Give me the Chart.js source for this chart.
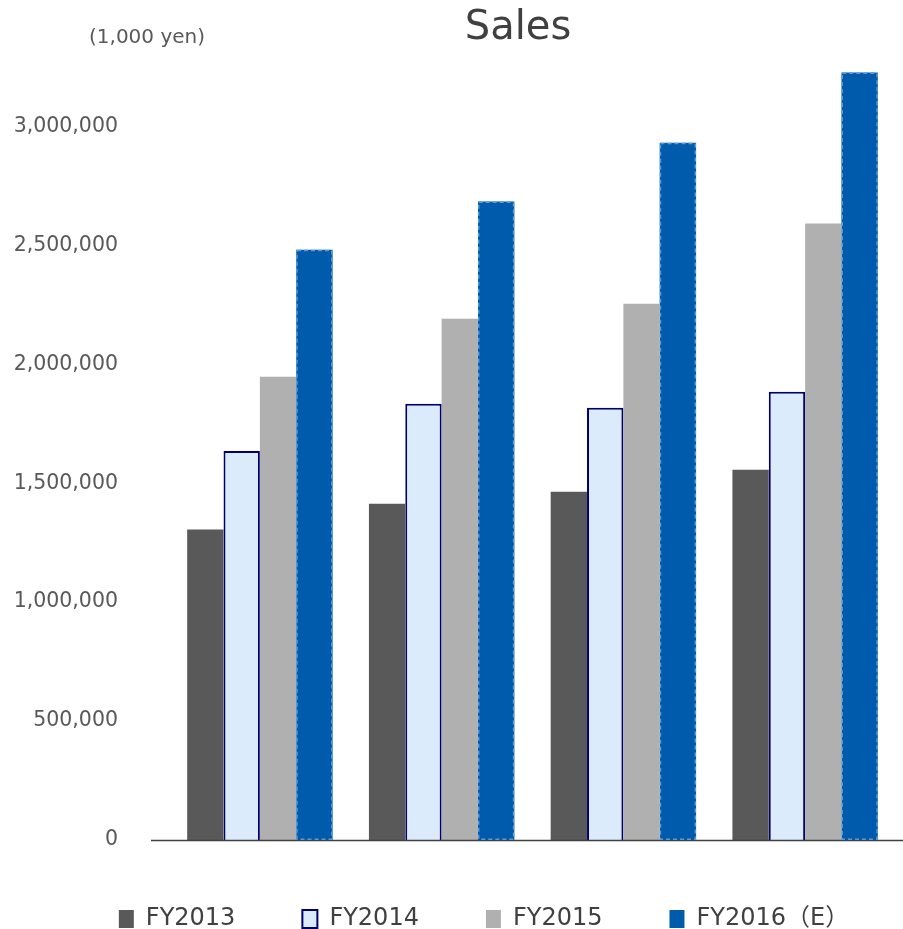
<!DOCTYPE html>
<html lang="en">
<head>
    <meta charset="UTF-8">
    <title>Sales</title>
    <script src="https://cdn.jsdelivr.net/npm/chart.js"></script>
    <style>
        body { margin: 0; background: #fff; }
        #wrap { position: relative; width: 903px; height: 929px; }
        #salesChart { position: absolute; left: 0; top: 0; }
        .lbl { position: absolute; font-family: "DejaVu Sans", Verdana, sans-serif; color: #404040; line-height: 1; white-space: nowrap; }
        #title { left: 518px; top: 5px; font-size: 40px; transform: translateX(-50%); }
        #unit { left: 89px; top: 26px; font-size: 20px; color: #595959; }
    </style>
</head>
<body>
<div id="wrap">
    <canvas id="salesChart" width="903" height="929"></canvas>
    <div class="lbl" id="title">Sales</div>
    <div class="lbl" id="unit">(1,000 yen)</div>
</div>

<script>
    // 4 groups, no labels shown on the x axis
    const categories = ['1Q', '2Q', '3Q', '4Q'];

    const fy2013 = [1305000, 1414000, 1464000, 1557000];
    const fy2014 = [1636000, 1834000, 1817000, 1885000];
    const fy2015 = [1948000, 2192000, 2255000, 2592000];
    const fy2016e = [2482000, 2684000, 2932000, 3227000];

    const seriesNames = ['FY2013', 'FY2014', 'FY2015', 'FY2016（E）'];

    const yMax = 3250000;
    const yTicks = [0, 500000, 1000000, 1500000, 2000000, 2500000, 3000000];

    const FONT = '"DejaVu Sans", Verdana, "Noto Sans CJK JP", sans-serif';

    // baseline of the plot, drawn a bit wider than the plot area
    const baseLine = {
        id: 'baseLine',
        afterDatasetsDraw(chart) {
            const ctx = chart.ctx;
            const y = Math.round(chart.scales.y.getPixelForValue(0)) + 0.5;
            ctx.save();
            ctx.strokeStyle = '#404040';
            ctx.lineWidth = 1.5;
            ctx.beginPath();
            ctx.moveTo(151, y);
            ctx.lineTo(chart.width, y);
            ctx.stroke();
            ctx.restore();
        }
    };

    // dashed outline on the forecast bars
    const dashedBars = {
        id: 'dashedBars',
        afterDatasetsDraw(chart) {
            const ctx = chart.ctx;
            const meta = chart.getDatasetMeta(3);
            ctx.save();
            ctx.strokeStyle = '#5b9bd5';
            ctx.lineWidth = 1.5;
            ctx.setLineDash([4, 3]);
            meta.data.forEach(bar => {
                const left = bar.x - bar.width / 2;
                ctx.strokeRect(left + 0.75, bar.y + 0.75, bar.width - 1.5, bar.base - bar.y - 1.5);
            });
            ctx.restore();
        }
    };

    // legend row sits a little right of centre in the original
    const legendShift = {
        id: 'legendShift',
        afterLayout(chart) {
            chart.legend.left += 36;
            chart.legend.right += 36;
        }
    };

    const ctx = document.getElementById('salesChart').getContext('2d');
    new Chart(ctx, {
        type: 'bar',
        data: {
            labels: categories,
            datasets: [
                { label: seriesNames[0], data: fy2013, backgroundColor: '#595959', borderWidth: 0 },
                { label: seriesNames[1], data: fy2014, backgroundColor: '#dcebfb', borderColor: '#00006e', borderWidth: 2 },
                { label: seriesNames[2], data: fy2015, backgroundColor: '#b0b0b0', borderWidth: 0 },
                { label: seriesNames[3], data: fy2016e, backgroundColor: '#005bac', borderWidth: 0 }
            ]
        },
        options: {
            responsive: false,
            animation: false,
            categoryPercentage: 0.8,
            barPercentage: 1.0,
            layout: { padding: { top: 67, left: 0, right: 7, bottom: 0 } },
            plugins: {
                title: { display: false },
                tooltip: { enabled: false },
                legend: {
                    position: 'bottom',
                    maxHeight: 89,
                    labels: {
                        font: { family: FONT, size: 24 },
                        color: '#404040',
                        boxWidth: 15,
                        boxHeight: 18,
                        padding: 67
                    }
                }
            },
            scales: {
                x: { display: false },
                y: {
                    min: 0,
                    max: yMax,
                    grid: { display: false, drawTicks: false },
                    border: { display: false },
                    afterFit(scale) { scale.width = 169; },
                    afterBuildTicks(scale) { scale.ticks = yTicks.map(v => ({ value: v })); },
                    ticks: {
                        autoSkip: false,
                        padding: 51,
                        color: '#595959',
                        font: { family: FONT, size: 20.5 },
                        callback: v => v.toLocaleString('en-US')
                    }
                }
            }
        },
        plugins: [baseLine, dashedBars, legendShift]
    });
</script>
</body>
</html>
